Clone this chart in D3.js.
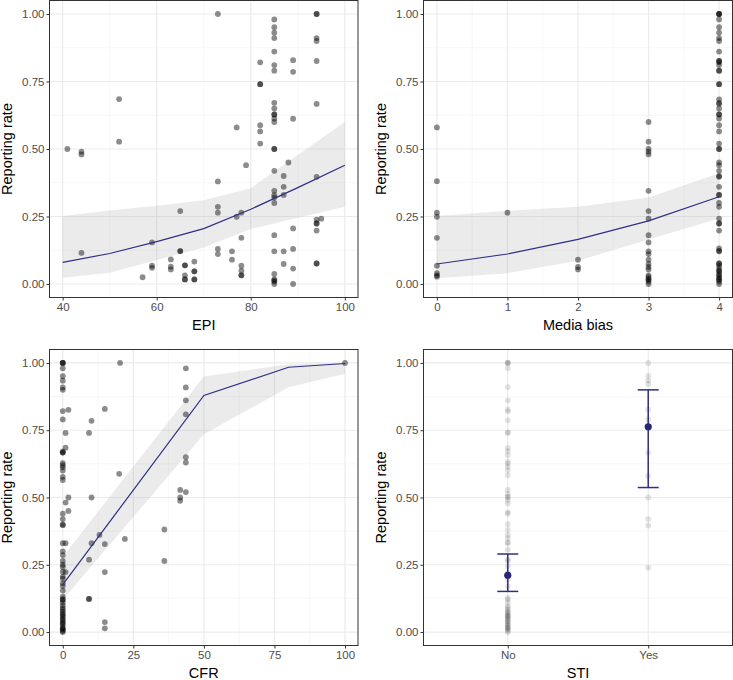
<!DOCTYPE html>
<html>
<head>
<meta charset="utf-8">
<script src="https://cdn.jsdelivr.net/npm/d3@7"></script>
<style>
  html, body { margin: 0; padding: 0; background: #fff; }
  svg { display: block; font-family: "Liberation Sans", Arial, Helvetica, sans-serif; }
</style>
</head>
<body>
<svg id="chart" width="733" height="680"></svg>
<script>
// ---------------- DATA ----------------
const yTicks = [0, 0.25, 0.5, 0.75, 1];
const yTickLabels = ["0.00", "0.25", "0.50", "0.75", "1.00"];

// Panel 1: EPI vs reporting rate
const epiTicks = [40, 60, 80, 100];
const epiPoints = [
  [41,0.50],[44,0.49],[44,0.48],[44,0.115],[52,0.685],[52,0.527],[57,0.025],
  [59,0.154],[59,0.068],[59,0.06],[63,0.091],[63,0.064],[63,0.054],
  [65,0.27],[65,0.122],[65,0.122],[66,0.069],[66,0.069],[66,0.032],[66,0.017],[66,0.017],
  [68,0.083],[68,0.047],[68,0.047],[68,0.017],[68,0.017],
  [73,1.0],[73,0.38],[73,0.286],[73,0.264],[73,0.13],[73,0.111],
  [76,0.121],[76,0.09],[77,0.58],[77,0.249],[78,0.264],[78,0.171],
  [78,0.068],[78,0.049],[78,0.032],[78,0.032],[79,0.44],
  [82,0.821],[82,0.74],[82,0.74],[82,0.588],[82,0.565],[82,0.52],
  [85,0.98],[85,0.951],[85,0.931],[85,0.911],[85,0.861],[85,0.811],[85,0.79],
  [85,0.671],[85,0.65],[85,0.628],[85,0.628],[85,0.613],[85,0.6],[85,0.50],[85,0.50],[85,0.419],
  [85,0.345],[85,0.329],[85,0.32],[85,0.30],[85,0.181],[85,0.121],
  [85,0.037],[85,0.017],[85,0.013],[85,0.009],[85,0.0],
  [87,0.40],[87,0.36],[87,0.33],[87,0.121],[87,0.074],[88,0.45],
  [89,0.829],[89,0.786],[89,0.612],[89,0.206],[89,0.13],[89,0.057],[89,0.0],
  [94,1.0],[94,1.0],[94,0.911],[94,0.9],[94,0.826],[94,0.667],[94,0.397],
  [94,0.238],[94,0.224],[94,0.224],[94,0.198],[95,0.242],[94,0.076],[94,0.076]
];
const epiFitX   = [40, 50, 60, 70, 80, 90, 100];
const epiFit    = [0.080, 0.113, 0.157, 0.205, 0.277, 0.357, 0.44];
const epiLower  = [0.023, 0.042, 0.089, 0.135, 0.204, 0.245, 0.286];
const epiUpper  = [0.252, 0.272, 0.290, 0.310, 0.355, 0.478, 0.600];

// Panel 2: Media bias vs reporting rate
const mediaTicks = [0, 1, 2, 3, 4];
const mediaPoints = [
  [0,0.58],[0,0.381],[0,0.264],[0,0.249],[0,0.171],[0,0.068],[0,0.04],[0,0.032],[0,0.027],
  [1,0.264],
  [2,0.09],[2,0.063],[2,0.054],
  [3,0.60],[3,0.527],[3,0.50],[3,0.49],[3,0.48],[3,0.345],[3,0.27],[3,0.242],[3,0.181],
  [3,0.154],[3,0.121],[3,0.111],[3,0.09],[3,0.074],[3,0.063],[3,0.054],[3,0.032],
  [3,0.025],[3,0.017],[3,0.017],[3,0.009],[3,0.0],
  [4,1.0],[4,1.0],[4,1.0],[4,0.98],[4,0.951],[4,0.931],[4,0.911],[4,0.9],[4,0.861],[4,0.826],
  [4,0.826],[4,0.821],[4,0.811],[4,0.79],[4,0.79],[4,0.74],[4,0.74],[4,0.684],[4,0.671],[4,0.667],
  [4,0.65],[4,0.628],[4,0.628],[4,0.613],[4,0.588],[4,0.565],[4,0.52],[4,0.50],[4,0.50],
  [4,0.45],[4,0.44],[4,0.419],[4,0.40],[4,0.397],[4,0.36],[4,0.33],[4,0.33],[4,0.30],[4,0.286],
  [4,0.242],[4,0.224],[4,0.224],[4,0.198],[4,0.132],[4,0.123],[4,0.121],
  [4,0.076],[4,0.076],[4,0.068],[4,0.057],[4,0.049],[4,0.047],[4,0.037],[4,0.032],
  [4,0.025],[4,0.017],[4,0.017],[4,0.009],[4,0.0]
];
const mediaFitX  = [0, 1, 2, 3, 4];
const mediaFit   = [0.074, 0.111, 0.165, 0.234, 0.323];
const mediaLower = [0.021, 0.040, 0.086, 0.165, 0.243];
const mediaUpper = [0.252, 0.271, 0.286, 0.320, 0.410];

// Panel 3: CFR vs reporting rate
const cfrTicks = [0, 25, 50, 75, 100];
const cfrPoints = [
  [0,1.0],[0,1.0],[0,1.0],[0,0.98],[0,0.951],[0,0.934],[0,0.909],[0,0.9],[0,0.821],[0,0.79],
  [0,0.671],[0,0.667],[0,0.667],[0,0.628],[0,0.62],[0,0.612],[0,0.6],[0,0.577],[0,0.565],
  [0,0.44],[0,0.42],[0,0.40],[0,0.397],[0,0.33],[0,0.30],[0,0.286],[0,0.264],[0,0.25],[0,0.242],
  [0,0.224],[0,0.206],[0,0.198],[0,0.181],[0,0.171],[0,0.154],[0,0.132],[0,0.121],[0,0.121],
  [0,0.111],[0,0.1],[0,0.09],[0,0.083],[0,0.076],[0,0.068],[0,0.063],[0,0.057],[0,0.049],
  [0,0.045],[0,0.037],[0,0.032],[0,0.027],[0,0.017],[0,0.013],[0,0.009],[0,0.004],[0,0.0],
  [2,0.826],[1,0.74],[1,0.685],[1,0.481],[2,0.50],[2,0.45],[1,0.33],[1,0.223],
  [10.2,0.785],[9.3,0.74],[10.2,0.50],[10.2,0.33],[9.3,0.269],[9.3,0.123],[9.3,0.123],
  [13,0.361],[14.9,0.829],[14.9,0.327],[14.9,0.223],[14.9,0.037],[14.9,0.014],
  [20.3,1.0],[20,0.588],[22,0.346],[36,0.381],[36,0.264],
  [41.6,0.528],[41.6,0.50],[41.6,0.488],
  [43.6,0.98],[43.6,0.909],[43.6,0.861],[43.6,0.809],[43.6,0.65],[43.6,0.63],[43.6,0.52],
  [100,1.0]
];
const cfrFitX  = [0, 50, 80, 100];
const cfrFit   = [0.176, 0.879, 0.984, 0.998];
const cfrLower = [0.120, 0.735, 0.910, 0.960];
const cfrUpper = [0.280, 0.950, 0.995, 1.0];

// Panel 4: STI vs reporting rate
const stiCategories = ["No", "Yes"];
const stiNo = [
  1.0,1.0,1.0,0.98,0.91,0.861,0.827,0.82,0.787,0.741,0.741,0.684,0.672,0.657,0.632,0.626,
  0.614,0.602,0.583,0.528,0.513,0.503,0.50,0.491,0.478,0.445,0.44,0.401,0.38,0.361,0.349,
  0.333,0.33,0.306,0.269,0.264,0.244,0.22,0.195,0.17,0.127,0.121,0.109,0.096,0.09,0.083,0.076,
  0.074,0.068,0.063,0.06,0.057,0.054,0.049,0.045,0.04,0.037,0.032,0.027,0.025,0.017,0.017,
  0.013,0.009,0.004,0.0
];
const stiYes = [1.0, 0.952, 0.935, 0.922, 0.827, 0.79, 0.667, 0.58, 0.5, 0.42, 0.396, 0.239];
const stiMean  = [0.211, 0.763];
const stiLower = [0.151, 0.537];
const stiUpper = [0.290, 0.900];

// ---------------- DRAWING ----------------
const svg = d3.select("#chart");
const NAVY = "#2f2f86";
const GRID_MAJOR = "#ebebeb";
const GRID_MINOR = "#f5f5f5";

function panelFrame(box, x, xMajor, xMinor, xLabels, xTitle) {
  const y = d3.scaleLinear().domain([-0.05, 1.05]).range([box.bottom, box.top]);
  const g = svg.append("g");
  g.append("rect").attr("x", box.left).attr("y", box.top)
    .attr("width", box.right - box.left).attr("height", box.bottom - box.top).attr("fill", "#fff");
  const yMinor = [0.125, 0.375, 0.625, 0.875];
  g.selectAll(".ymin").data(yMinor).enter().append("line")
    .attr("x1", box.left).attr("x2", box.right)
    .attr("y1", d => y(d)).attr("y2", d => y(d))
    .attr("stroke", GRID_MINOR).attr("stroke-width", 0.8);
  g.selectAll(".xmin").data(xMinor).enter().append("line")
    .attr("y1", box.top).attr("y2", box.bottom)
    .attr("x1", d => x(d)).attr("x2", d => x(d))
    .attr("stroke", GRID_MINOR).attr("stroke-width", 0.8);
  g.selectAll(".ymaj").data(yTicks).enter().append("line")
    .attr("x1", box.left).attr("x2", box.right)
    .attr("y1", d => y(d)).attr("y2", d => y(d))
    .attr("stroke", GRID_MAJOR).attr("stroke-width", 1.2);
  g.selectAll(".xmaj").data(xMajor).enter().append("line")
    .attr("y1", box.top).attr("y2", box.bottom)
    .attr("x1", d => x(d)).attr("x2", d => x(d))
    .attr("stroke", GRID_MAJOR).attr("stroke-width", 1.2);

  const xAxis = d3.axisBottom(x).tickValues(xMajor).tickSize(3).tickSizeOuter(0).tickPadding(2)
    .tickFormat((d, i) => xLabels[i]);
  const xa = svg.append("g").attr("transform", `translate(0,${box.bottom})`).call(xAxis);
  const yAxis = d3.axisLeft(y).tickValues(yTicks).tickSize(3).tickSizeOuter(0).tickPadding(2)
    .tickFormat((d, i) => yTickLabels[i]);
  const ya = svg.append("g").attr("transform", `translate(${box.left},0)`).call(yAxis);
  [xa, ya].forEach(a => {
    a.select(".domain").remove();
    a.selectAll(".tick line").attr("stroke", "#333333");
    a.selectAll(".tick text").attr("fill", "#4d4d4d").style("font-size", "11.5px")
      .style("font-family", "'Liberation Sans', Arial, sans-serif");
  });
  svg.append("text").attr("x", (box.left + box.right) / 2).attr("y", box.bottom + 32)
    .attr("text-anchor", "middle").style("font-size", "14.5px").attr("fill", "#000").text(xTitle);
  svg.append("text")
    .attr("transform", `translate(${box.left - 38},${(box.top + box.bottom) / 2}) rotate(-90)`)
    .attr("text-anchor", "middle").style("font-size", "14.5px").attr("fill", "#000").text("Reporting rate");
  return { y, g };
}

function border(box) {
  svg.append("rect").attr("x", box.left).attr("y", box.top)
    .attr("width", box.right - box.left).attr("height", box.bottom - box.top)
    .attr("fill", "none").attr("stroke", "#333333").attr("stroke-width", 1);
}

function smoothPanel(box, xDomain, xMajor, xMinor, xTitle, points, fitX, fit, lower, upper) {
  const x = d3.scaleLinear().domain(xDomain).range([box.left, box.right]);
  const { y, g } = panelFrame(box, x, xMajor, xMinor, xMajor.map(String), xTitle);
  const rib = fitX.map((v, i) => ({ x: v, lo: lower[i], hi: upper[i], f: fit[i] }));
  g.append("path").datum(rib)
    .attr("d", d3.area().x(d => x(d.x)).y0(d => y(d.lo)).y1(d => y(d.hi)))
    .attr("fill", "#999999").attr("fill-opacity", 0.2);
  g.selectAll(".pt").data(points).enter().append("circle")
    .attr("cx", d => x(d[0])).attr("cy", d => y(d[1])).attr("r", 2.9)
    .attr("fill", "#000").attr("fill-opacity", 0.45);
  g.append("path").datum(rib)
    .attr("d", d3.line().x(d => x(d.x)).y(d => y(d.f)))
    .attr("fill", "none").attr("stroke", NAVY).attr("stroke-width", 1.2);
  border(box);
}

const top1 = { left: 49.5, right: 358, top: 0.5, bottom: 297.5 };
const top2 = { left: 423.5, right: 732.5, top: 0.5, bottom: 297.5 };
const bot1 = { left: 49.5, right: 358, top: 349.5, bottom: 645.5 };
const bot2 = { left: 423.5, right: 732.5, top: 349.5, bottom: 645.5 };

smoothPanel(top1, [37.2, 102.8], epiTicks, [50, 70, 90], "EPI",
  epiPoints, epiFitX, epiFit, epiLower, epiUpper);
smoothPanel(top2, [-0.19, 4.19], mediaTicks, [0.5, 1.5, 2.5, 3.5], "Media bias",
  mediaPoints, mediaFitX, mediaFit, mediaLower, mediaUpper);
smoothPanel(bot1, [-4.7, 104.6], cfrTicks, [12.5, 37.5, 62.5, 87.5], "CFR",
  cfrPoints, cfrFitX, cfrFit, cfrLower, cfrUpper);

// Panel 4 (categorical, ggplot-like discrete expansion)
(function () {
  const box = bot2;
  const x = d3.scalePoint().domain(stiCategories).range([box.left, box.right]).padding(0.6);
  const { y, g } = panelFrame(box, x, stiCategories, [], stiCategories, "STI");
  const pts = stiNo.map(v => ["No", v]).concat(stiYes.map(v => ["Yes", v]));
  g.selectAll(".pt").data(pts).enter().append("circle")
    .attr("cx", d => x(d[0])).attr("cy", d => y(d[1])).attr("r", 2.9)
    .attr("fill", "#000").attr("fill-opacity", 0.11);
  const summ = stiCategories.map((c, i) => ({ c, m: stiMean[i], lo: stiLower[i], hi: stiUpper[i] }));
  const eb = g.selectAll(".eb").data(summ).enter().append("g");
  eb.append("line").attr("x1", d => x(d.c)).attr("x2", d => x(d.c))
    .attr("y1", d => y(d.lo)).attr("y2", d => y(d.hi)).attr("stroke", NAVY).attr("stroke-width", 1.5);
  ["lo", "hi"].forEach(k => {
    eb.append("line").attr("x1", d => x(d.c) - 10.5).attr("x2", d => x(d.c) + 10.5)
      .attr("y1", d => y(d[k])).attr("y2", d => y(d[k])).attr("stroke", NAVY).attr("stroke-width", 1.5);
  });
  eb.append("circle").attr("cx", d => x(d.c)).attr("cy", d => y(d.m)).attr("r", 3.6)
    .attr("fill", "#262673");
  border(box);
})();
</script>
</body>
</html>
